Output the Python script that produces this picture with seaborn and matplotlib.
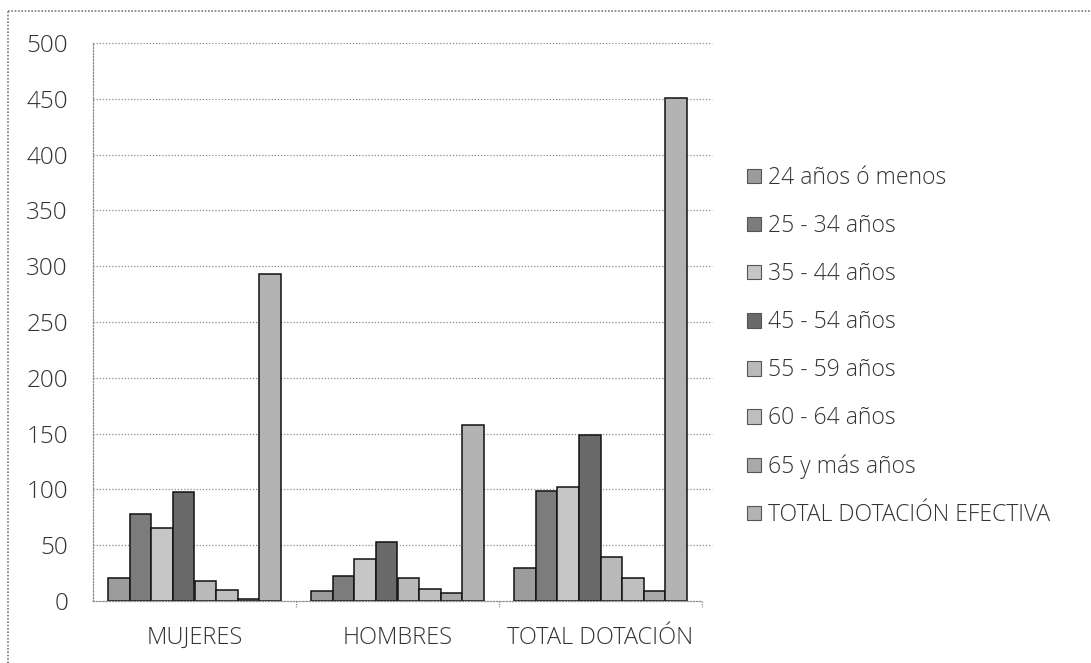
import matplotlib
matplotlib.use("Agg")
import matplotlib.pyplot as plt
import seaborn as sns
import pandas as pd
from matplotlib.lines import Line2D
from matplotlib.patches import Patch

categories = ["MUJERES", "HOMBRES", "TOTAL DOTACIÓN"]
age_groups = ["24 años ó menos", "25 - 34 años", "35 - 44 años", "45 - 54 años",
              "55 - 59 años", "60 - 64 años", "65 y más años", "TOTAL DOTACIÓN EFECTIVA"]
mujeres = [21, 78, 65, 98, 18, 10, 2, 293]
hombres = [9, 22, 38, 53, 21, 11, 7, 158]
total = [30, 99, 102, 149, 39, 21, 9, 451]
y_ticks = [0, 50, 100, 150, 200, 250, 300, 350, 400, 450, 500]

grays = ["#9c9c9c", "#7c7c7c", "#c6c6c6", "#6a6a6a",
         "#b9b9b9", "#bfbfbf", "#a9a9a9", "#b3b3b3"]

rows = []
for cat, vals in zip(categories, [mujeres, hombres, total]):
    for grp, v in zip(age_groups, vals):
        rows.append({"categoria": cat, "grupo": grp, "valor": v})
df = pd.DataFrame(rows)

sns.set_theme(style="white")
plt.rcParams["font.family"] = ["Open Sans", "DejaVu Sans"]
plt.rcParams["font.weight"] = "light"
text_color = "#333333"

fig = plt.figure(figsize=(10.91, 6.63), dpi=100)
ax = fig.add_axes([93 / 1091, 1 - 601 / 663, (702 - 93) / 1091, (601 - 43) / 663])

sns.barplot(data=df, x="categoria", y="valor", hue="grupo", order=categories,
            hue_order=age_groups, palette=grays, width=0.85, gap=0,
            edgecolor="#111111", linewidth=1.1, saturation=1, ax=ax, legend=False)

ax.set_xlim(-0.5, 2.5)
ax.set_ylim(0, 500)
ax.set_yticks(y_ticks)
ax.set_xlabel("")
ax.set_ylabel("")

# dotted horizontal gridlines
for y in y_ticks[1:]:
    ax.plot([-0.5, 2.55], [y, y], color="#8a8a8a", lw=0.9, ls=(0, (1, 1.5)),
            zorder=0, clip_on=False)

for side in ["top", "right"]:
    ax.spines[side].set_visible(False)
for side in ["left", "bottom"]:
    ax.spines[side].set_color("#8a8a8a")
    ax.spines[side].set_linestyle((0, (1, 1.5)))
    ax.spines[side].set_linewidth(0.9)

ax.tick_params(axis="y", length=6, color="#8a8a8a", labelsize=17.5, labelcolor=text_color, pad=12)
ax.tick_params(axis="x", length=0, labelsize=17, labelcolor=text_color, pad=18)

# category boundary ticks under the baseline
for xb in [0.5, 1.5, 2.5]:
    ax.plot([xb, xb], [0, -5], color="#8a8a8a", lw=0.9, ls=(0, (1, 1)), clip_on=False)

handles = [Patch(facecolor=c, edgecolor="#555555", linewidth=0.8) for c in grays]
fig.legend(handles, age_groups, loc="upper left", bbox_to_anchor=(738 / 1091, 1 - 157 / 663),
           frameon=False, fontsize=16.5, labelcolor=text_color, handlelength=0.6,
           handleheight=0.6, handletextpad=0.3, labelspacing=1.05, borderaxespad=0)

# outer chart frame
fig.add_artist(Line2D([8 / 1091, 1.0], [1 - 11 / 663, 1 - 11 / 663], transform=fig.transFigure,
                      color="#7a7a7a", lw=1.2, ls=(0, (1, 1))))
fig.add_artist(Line2D([8 / 1091, 8 / 1091], [0, 1 - 11 / 663], transform=fig.transFigure,
                      color="#7a7a7a", lw=1.2, ls=(0, (1, 1))))

fig.savefig("out.png", dpi=100)
